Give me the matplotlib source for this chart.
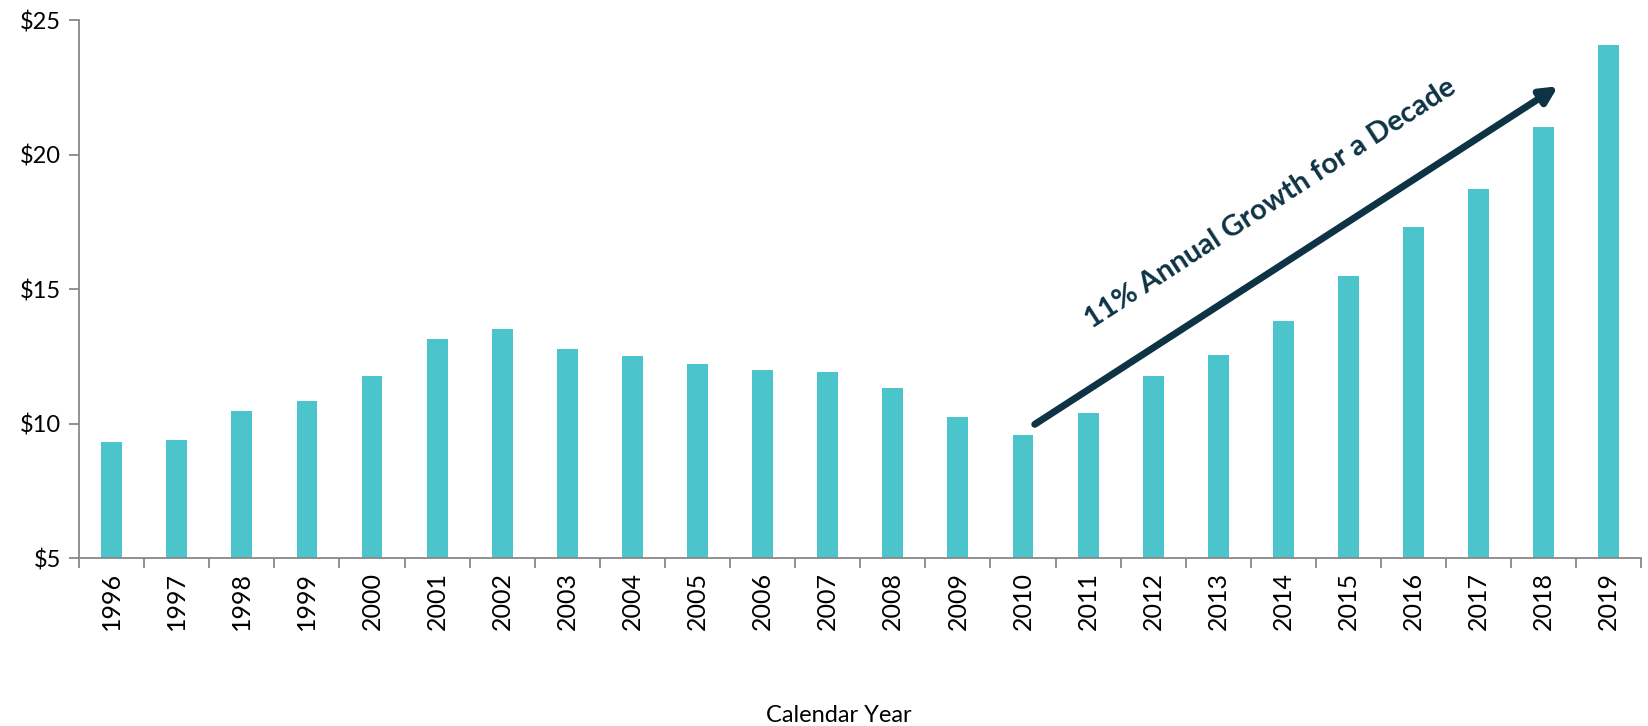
from matplotlib import pyplot as plt
import numpy as np

years = [str(y) for y in range(1996, 2020)]
values = [9.32, 9.40, 10.49, 10.84, 11.77, 13.17, 13.52, 12.78, 12.51, 12.24,
          12.00, 11.93, 11.34, 10.25, 9.59, 10.41, 11.77, 12.55, 13.83, 15.51,
          17.33, 18.74, 21.03, 24.07]
yticks = [5, 10, 15, 20, 25]
ytick_labels = ['$5', '$10', '$15', '$20', '$25']

plt.rcParams['font.family'] = ['Lato', 'DejaVu Sans']

fig = plt.figure(figsize=(16.48, 7.26), dpi=100)
ax = fig.add_axes([0.048, 0.231, 0.948, 0.741])

x = np.arange(len(years))
ax.bar(x, np.array(values) - 5, bottom=5, width=0.32, color='#4bc5cb')

ax.set_xlim(-0.5, len(years) - 0.5)
ax.set_ylim(5, 25)

ax.set_yticks(yticks)
ax.set_yticklabels(ytick_labels, fontsize=17)
ax.set_xticks(x)
ax.set_xticklabels(years, rotation=90, fontsize=18,
                   family=['Liberation Sans Narrow', 'Lato'])
ax.set_xticks(np.arange(len(years) + 1) - 0.5, minor=True)
ax.tick_params(axis='x', which='major', length=0, pad=10)
ax.tick_params(axis='x', which='minor', length=7, color='#888888', width=1.3)
ax.tick_params(axis='y', length=7, color='#888888', width=1.3, pad=6)

for side in ['top', 'right']:
    ax.spines[side].set_visible(False)
for side in ['left', 'bottom']:
    ax.spines[side].set_color('#888888')
    ax.spines[side].set_linewidth(1.3)

fig.text(0.509, 0.015, 'Calendar Year', ha='center', va='center', fontsize=17)

# growth arrow and label
ax.annotate('', xy=(22.22, 22.55), xytext=(14.18, 9.98),
            arrowprops=dict(arrowstyle='-|>,head_length=1.0,head_width=0.5',
                            color='#0d3345', lw=5, shrinkA=0, shrinkB=0))
ax.text(17.8, 18.2, '11% Annual Growth for a Decade', rotation=33,
        rotation_mode='anchor', ha='center', va='center',
        fontsize=21, fontweight='bold', color='#0d3345')

fig.savefig('out.png', dpi=100)
